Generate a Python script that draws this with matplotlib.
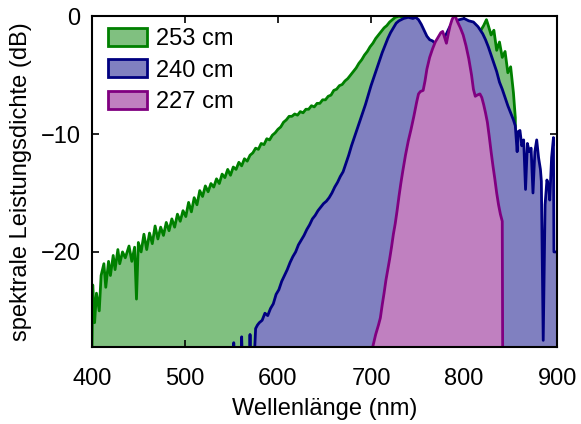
import matplotlib.pyplot as plt
from matplotlib.patches import Patch

plt.rcParams['font.family'] = ['Liberation Sans', 'DejaVu Sans']
plt.rcParams['font.size'] = 17

# 253 cm spectrum (nm, dB)
wl_253 = [400, 401, 403, 405, 408, 410, 413, 415, 418, 420, 423, 425, 428, 430, 433, 436,
          440, 443, 446, 448, 450, 453, 456, 459, 462, 465, 468, 471, 474, 477, 480, 483,
          486, 489, 492, 495, 498, 501, 504, 507, 510, 513, 516, 519, 522, 525, 528, 531,
          534, 537, 540, 543, 546, 549, 552, 555, 558, 561, 564, 567, 570, 573, 576, 579,
          582, 585, 588, 591, 594, 597, 600, 603, 606, 609, 612, 615, 618, 621, 624, 627,
          630, 633, 636, 639, 642, 645, 648, 651, 654, 657, 660, 663, 666, 669, 672, 675,
          678, 681, 684, 687, 690, 693, 696, 699, 702, 705, 708, 711, 714, 717, 720, 723,
          726, 730, 735, 740, 745, 750, 760, 770, 780, 790, 800, 810, 815, 818, 821, 824,
          826, 829, 832, 835, 838, 841, 844, 847, 850, 853, 855, 857]
db_253 = [-30, -22.8, -26, -23.5, -25, -22, -21, -23, -20.8, -22, -20.3, -21.5, -19.8, -21, -20, -20.5,
          -19.5, -20.8, -19.6, -24, -19.2, -20, -18.5, -19.8, -18.4, -19.3, -17.8, -18.9, -17.9, -18.6, -17.5, -18.2,
          -17.2, -17.9, -16.8, -17.4, -16.5, -17, -15.8, -16.6, -15.4, -16, -14.8, -15.3, -14.4, -14.9, -14.2, -14.5,
          -13.8, -14.2, -13.4, -13.7, -13, -13.5, -12.8, -13, -12.4, -12.7, -12.1, -12.3, -11.8, -11.6, -11.2, -11.3,
          -10.8, -10.9, -10.4, -10.5, -10.1, -9.9, -9.6, -9.4, -9.0, -8.8, -8.5, -8.5, -8.3, -8.4, -8.1, -8.2,
          -7.9, -7.9, -7.6, -7.7, -7.4, -7.4, -7.1, -7.1, -6.8, -6.7, -6.3, -6.2, -5.9, -5.8, -5.5, -5.3,
          -5.0, -4.7, -4.4, -4.0, -3.7, -3.3, -3.0, -2.6, -2.3, -1.9, -1.6, -1.3, -1.0, -0.8, -0.5, -0.3,
          -0.1, 0.0, -0.1, -0.2, -0.5, -1.0, -2.5, -2.8, -2.2, -1.5, -1.2, -1.5, -1.6, -1.2, -0.8, -0.3,
          -0.8, -1.6, -1.2, -2.9, -2.2, -3.5, -3.0, -4.8, -4.3, -6.5, -8.6, -30]

# 240 cm spectrum
wl_240 = [545, 552, 552.5, 553.5, 560, 561, 562, 569, 570, 571, 574, 576, 578, 580, 583, 586,
          589, 592, 595, 598, 601, 604, 607, 610, 613, 616, 619, 622, 625, 628, 631, 634,
          637, 640, 643, 646, 649, 652, 655, 658, 661, 664, 667, 670, 673, 676, 679, 682,
          685, 688, 691, 694, 697, 700, 703, 706, 709, 712, 715, 718, 721, 724, 727, 730,
          735, 740, 745, 748, 751, 754, 757, 760, 763, 766, 769, 772, 775, 778, 781, 784,
          787, 790, 795, 800, 805, 810, 815, 820, 823, 826, 829, 832, 835, 838, 841, 844,
          847, 850, 853, 855, 857, 858, 860, 862, 864, 866, 868, 870, 872, 874, 876, 878,
          880, 882, 883, 885, 887, 889, 891, 892, 894, 896, 896.5, 905]
db_240 = [-30, -30, -27.7, -30, -30, -27.2, -30, -30, -27, -30, -30, -26.5, -26.2, -26.0, -25.8, -25.2,
          -25.4, -24.8, -24.4, -23.6, -23.2, -22.5, -22.0, -21.5, -20.9, -20.4, -20.0, -19.4, -19.0, -18.6, -18.1, -17.7,
          -17.2, -16.9, -16.5, -16.2, -15.9, -15.7, -15.4, -15.0, -14.5, -14.1, -13.6, -13.2, -12.5, -11.8, -11.0, -10.3,
          -9.6, -8.9, -8.2, -7.5, -6.7, -5.9, -5.2, -4.5, -3.8, -3.1, -2.5, -1.9, -1.4, -1.0, -0.6, -0.4,
          -0.2, -0.1, -0.2, -0.1, -0.3, -0.7, -1.2, -1.7, -2.0, -2.1, -2.3, -2.1, -2.0, -1.8, -1.5, -1.0,
          -0.6, -0.4, -0.3, -0.2, -0.4, -0.5, -0.9, -1.5, -2.0, -2.6, -3.3, -4.0, -4.7, -5.6, -6.2, -6.9,
          -7.6, -8.2, -8.8, -9.3, -11.5, -9.8, -9.7, -11, -10.5, -14.7, -10.8, -11.5, -11.2, -15, -11.5, -10.5,
          -12, -13, -14, -27.5, -16, -13.9, -14.5, -15.6, -12, -10.3, -20, -20]

# 227 cm spectrum
wl_227 = [700, 702, 705, 708, 710, 712, 714, 716, 718, 720, 722, 724, 726, 728, 730, 732,
          734, 737, 740, 743, 746, 749, 751, 753, 756, 758, 760, 763, 766, 769, 772, 775,
          777, 779, 781, 783, 785, 787, 789, 791, 793, 796, 799, 802, 805, 808, 810, 812,
          814, 817, 819, 821, 823, 825, 827, 829, 831, 833, 835, 837, 839, 841, 841.5]
db_227 = [-30, -28, -27, -26.2, -25.6, -24.5, -23.5, -22.4, -21.5, -20.6, -19.6, -18.5, -17.6, -16.5, -15.3, -14.2,
          -13.2, -11.8, -10.6, -9.6, -8.5, -7.3, -6.6, -6.4, -6.3, -5.5, -4.5, -3.5, -2.8, -2.2, -1.8, -1.4,
          -1.3, -1.8, -2.3, -1.5, -0.8, -0.3, 0.0, -0.1, -0.5, -1.0, -1.6, -2.5, -3.6, -5.0, -6.2, -6.8,
          -6.7, -6.6, -6.9, -7.5, -8.2, -9.0, -10.2, -11.5, -12.7, -13.8, -15.0, -16.0, -16.8, -17.4, -30]

series = [
    ('253 cm', wl_253, db_253, '#008000', '#80c080'),
    ('240 cm', wl_240, db_240, '#000080', '#8080c0'),
    ('227 cm', wl_227, db_227, '#800080', '#c080c0'),
]

fig = plt.figure(figsize=(5.81, 4.24), dpi=100)
ax = fig.add_axes([0.158, 0.182, 0.801, 0.780])

handles = []
for i, (label, wl, db, line_c, fill_c) in enumerate(series):
    # each fill must hide the previous line, so stack zorders
    ax.fill_between(wl, db, -40, color=fill_c, lw=0, zorder=2 * i + 1)
    ax.plot(wl, db, color=line_c, lw=2.0, zorder=2 * i + 2)
    handles.append(Patch(facecolor=fill_c, edgecolor=line_c, lw=2.0, label=label))

ax.set_xlim(400, 900)
ax.set_ylim(-28.05, 0)
ax.set_xticks([400, 500, 600, 700, 800, 900])
ax.set_yticks([0, -10, -20])
ax.tick_params(direction='in', length=5, width=1.2, top=True, right=True)
ax.tick_params(axis='x', pad=15)
ax.tick_params(axis='y', pad=8)
for s in ax.spines.values():
    s.set_linewidth(1.5)
    s.set_zorder(10)
ax.set_xlabel('Wellenlänge (nm)', labelpad=6)
ax.set_ylabel('spektrale Leistungsdichte (dB)', labelpad=6)

ax.legend(handles=handles, loc='upper left', frameon=False, bbox_to_anchor=(0.007, 1.003),
          handlelength=1.65, handleheight=0.8, handletextpad=0.4, labelspacing=0.38,
          borderaxespad=0.15)

fig.savefig('out.png', dpi=100)
